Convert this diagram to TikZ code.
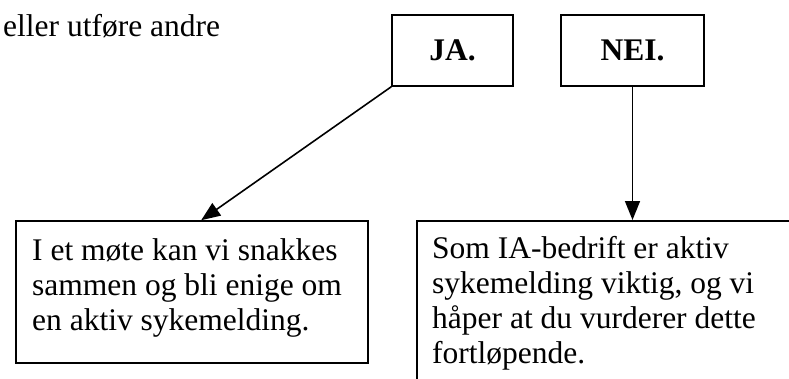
\documentclass[tikz,border=0pt]{standalone}
\usepackage{fontspec}
\setmainfont{Liberation Serif}
\usetikzlibrary{arrows.meta,calc}
\begin{document}
\begin{tikzpicture}[x=1pt,y=-1pt,
  lbl/.style={draw, line width=1.6pt, font=\fontsize{31.5}{36}\selectfont\bfseries, inner sep=0pt},
  boxline/.style={draw, line width=1.6pt, inner sep=0pt},
  body/.style={font=\fontsize{31.5}{35}\selectfont, align=left, inner sep=0pt, anchor=north west},
  arr/.style={line width=1.6pt, -{Triangle[length=19pt,width=15pt]}}]
\useasboundingbox (0,0) rectangle (789,378);
\clip (0,0) rectangle (789,378);
\node[anchor=base west, inner sep=0pt, font=\fontsize{31.5}{36}\selectfont] (top) at (3,36) {eller utføre andre};
\node[lbl, minimum width=121pt, minimum height=71pt] (ja) at (452.5,50.5) {JA.};
\node[lbl, minimum width=143pt, minimum height=71pt] (nei) at (632.5,50.5) {NEI.};
\node[boxline, minimum width=352pt, minimum height=142pt] (lbox) at (192,292) {};
\node[body] (ltext) at (32,238.5) {I et møte kan vi snakkes\\sammen og bli enige om\\en aktiv sykemelding.};
\node[boxline, anchor=north west, minimum width=420pt, minimum height=200pt] (rbox) at (416,220) {};
\node[body] (rtext) at (432,236.5) {Som IA-bedrift er aktiv\\sykemelding viktig, og vi\\håper at du vurderer dette\\fortløpende.};
\draw[arr] (ja.south west) -- ([xshift=186pt]lbox.north west);
\draw[arr] (nei.south) -- (nei.south |- rbox.north);
\end{tikzpicture}
\end{document}
